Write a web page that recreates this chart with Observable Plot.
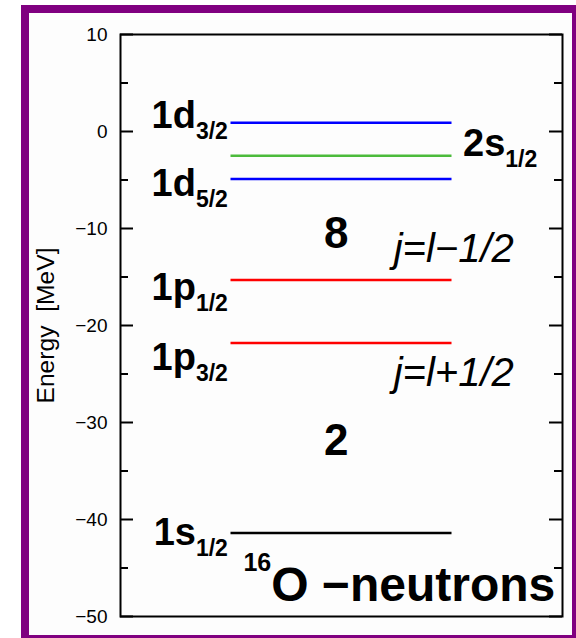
<!DOCTYPE html>
<html>
<head>
<meta charset="utf-8">
<script src="https://cdn.jsdelivr.net/npm/d3@7"></script>
<script src="https://cdn.jsdelivr.net/npm/@observablehq/plot@0.6"></script>
<style>
html, body { margin: 0; padding: 0; background: #ffffff; overflow: hidden; width: 576px; height: 638px; }
#box { position: absolute; left: 21px; top: 5px; width: 543px; height: 622px; border: 8px solid #800080; background: #fdfdfd; }
#chart { position: absolute; left: 0; top: 0; }
</style>
</head>
<body>
<div id="box"></div>
<div id="chart"></div>
<script>
// ---- data ----
const levelNames = ["1d", "2s", "1d", "1p", "1p", "1s"];
const levelSubs = ["3/2", "1/2", "5/2", "1/2", "3/2", "1/2"];
const levelEnergies = [0.9, -2.5, -4.9, -15.3, -21.8, -41.4];
const levelLabelEnergies = [0.4, -2.5, -6.6, -17.4, -24.6, -42.6];
const levelLabelSides = ["left", "right", "left", "left", "left", "left"];

const magicNumbers = ["8", "2"];
const magicEnergies = [-12.0, -33.4];

const couplingLabels = ["j=l\u22121/2", "j=l+1/2"];
const couplingEnergies = [-13.5, -26.2];

const nucleusMass = "16";
const nucleusTitle = "O \u2212neutrons";
const nucleusTitleEnergy = -48.4;

const yMajorTicks = [10, 0, -10, -20, -30, -40, -50];
const yMinorTicks = [5, -5, -15, -25, -35, -45];
const yLabel = "Energy  [MeV]";

// ---- layout ----
const W = 576, H = 638;
const mL = 120, mR = 14, mT = 34, mB = 22;
const plotW = W - mL - mR;
const lineX1 = 0.25, lineX2 = 0.75;     // level line extent (fraction of frame)
const leftLabelX = 0.243, rightLabelX = 0.775, magicX = 0.488, couplingX = 0.618, titleX = 0.278;

const levels = levelNames.map((name, i) => ({
  name, sub: levelSubs[i], energy: levelEnergies[i], labelE: levelLabelEnergies[i], side: levelLabelSides[i]
}));
const leftLevels = levels.filter(d => d.side === "left");
const rightLevels = levels.filter(d => d.side === "right");
const magic = magicNumbers.map((t, i) => ({t, e: magicEnergies[i]}));
const coupling = couplingLabels.map((t, i) => ({t, e: couplingEnergies[i]}));
const title = [{t: nucleusTitle, pre: nucleusMass, e: nucleusTitleEnergy}];

const big = 38, sub = 23;

const plot = Plot.plot({
  width: W, height: H,
  marginLeft: mL, marginRight: mR, marginTop: mT, marginBottom: mB,
  style: {background: "transparent", fontFamily: "'Liberation Sans', Arial, Helvetica, sans-serif", color: "black"},
  x: {domain: [0, 1], axis: null},
  y: {domain: [-50, 10]},
  color: {type: "ordinal", domain: ["1d", "2s", "1p", "1s"], range: ["#0000ff", "#4cbb3c", "#ff0000", "#000000"]},
  marks: [
    Plot.ruleY(levels, {y: "energy", x1: lineX1, x2: lineX2, stroke: "name", strokeWidth: 2.5}),
    Plot.tickY(yMajorTicks, {y: d => d, stroke: "black", strokeWidth: 2, insetRight: plotW - 13}),
    Plot.tickY(yMinorTicks, {y: d => d, stroke: "black", strokeWidth: 2, insetRight: plotW - 8}),
    Plot.tickY(yMajorTicks, {y: d => d, stroke: "black", strokeWidth: 2, insetLeft: plotW - 13}),
    Plot.tickY(yMinorTicks, {y: d => d, stroke: "black", strokeWidth: 2, insetLeft: plotW - 8}),
    Plot.frame({stroke: "black", strokeWidth: 2}),
    Plot.axisY(yMajorTicks, {tickSize: 0, tickPadding: 13, fontSize: 19, label: null}),
    // text groups (order matters for post-processing)
    Plot.text([yLabel], {frameAnchor: "left", dx: -74, rotate: -90, textAnchor: "middle", lineAnchor: "middle", fontSize: 23}),
    Plot.text(leftLevels, {x: () => leftLabelX, y: "labelE", text: "name", textAnchor: "end", lineAnchor: "bottom", fontSize: big, fontWeight: "bold"}),
    Plot.text(rightLevels, {x: () => rightLabelX, y: "labelE", text: "name", textAnchor: "start", lineAnchor: "bottom", fontSize: big, fontWeight: "bold"}),
    Plot.text(magic, {x: () => magicX, y: "e", text: "t", textAnchor: "middle", lineAnchor: "bottom", fontSize: 44, fontWeight: "bold"}),
    Plot.text(coupling, {x: () => couplingX, y: "e", text: "t", textAnchor: "start", lineAnchor: "bottom", fontSize: 40, fontStyle: "italic"}),
    Plot.text(title, {x: () => titleX, y: "e", text: "t", textAnchor: "start", lineAnchor: "bottom", fontSize: 48, fontWeight: "bold"})
  ]
});

document.getElementById("chart").appendChild(plot);

// ---- post-process: subscripts / superscripts as tspans ----
const groups = plot.querySelectorAll('g[aria-label="text"]');
const yLabelG = groups[0], leftG = groups[1], rightG = groups[2], titleG = groups[5];
d3.select(yLabelG).attr("font-size", 23).selectAll("text")
  .attr("font-size", 23)
  .attr("text-anchor", "middle")
  .attr("textLength", 156)
  .attr("lengthAdjust", "spacingAndGlyphs")
  .style("white-space", "pre");
function addSub(g, data) {
  d3.select(g).selectAll("text").each(function(_, k) {
    const d = data[k];
    const t = d3.select(this);
    const main = t.text();
    t.text(null);
    t.append("tspan").text(main);
    t.append("tspan").attr("dy", 11).attr("font-size", sub).text(d.sub);
  });
}
addSub(leftG, leftLevels);
addSub(rightG, rightLevels);
d3.select(titleG).selectAll("text").each(function(_, k) {
  const d = title[k];
  const t = d3.select(this);
  const main = t.text();
  t.text(null).style("white-space", "pre");
  t.append("tspan").attr("dy", -30).attr("font-size", 25).text(d.pre);
  t.append("tspan").attr("dy", 30).text(main);
});
</script>
</body>
</html>
